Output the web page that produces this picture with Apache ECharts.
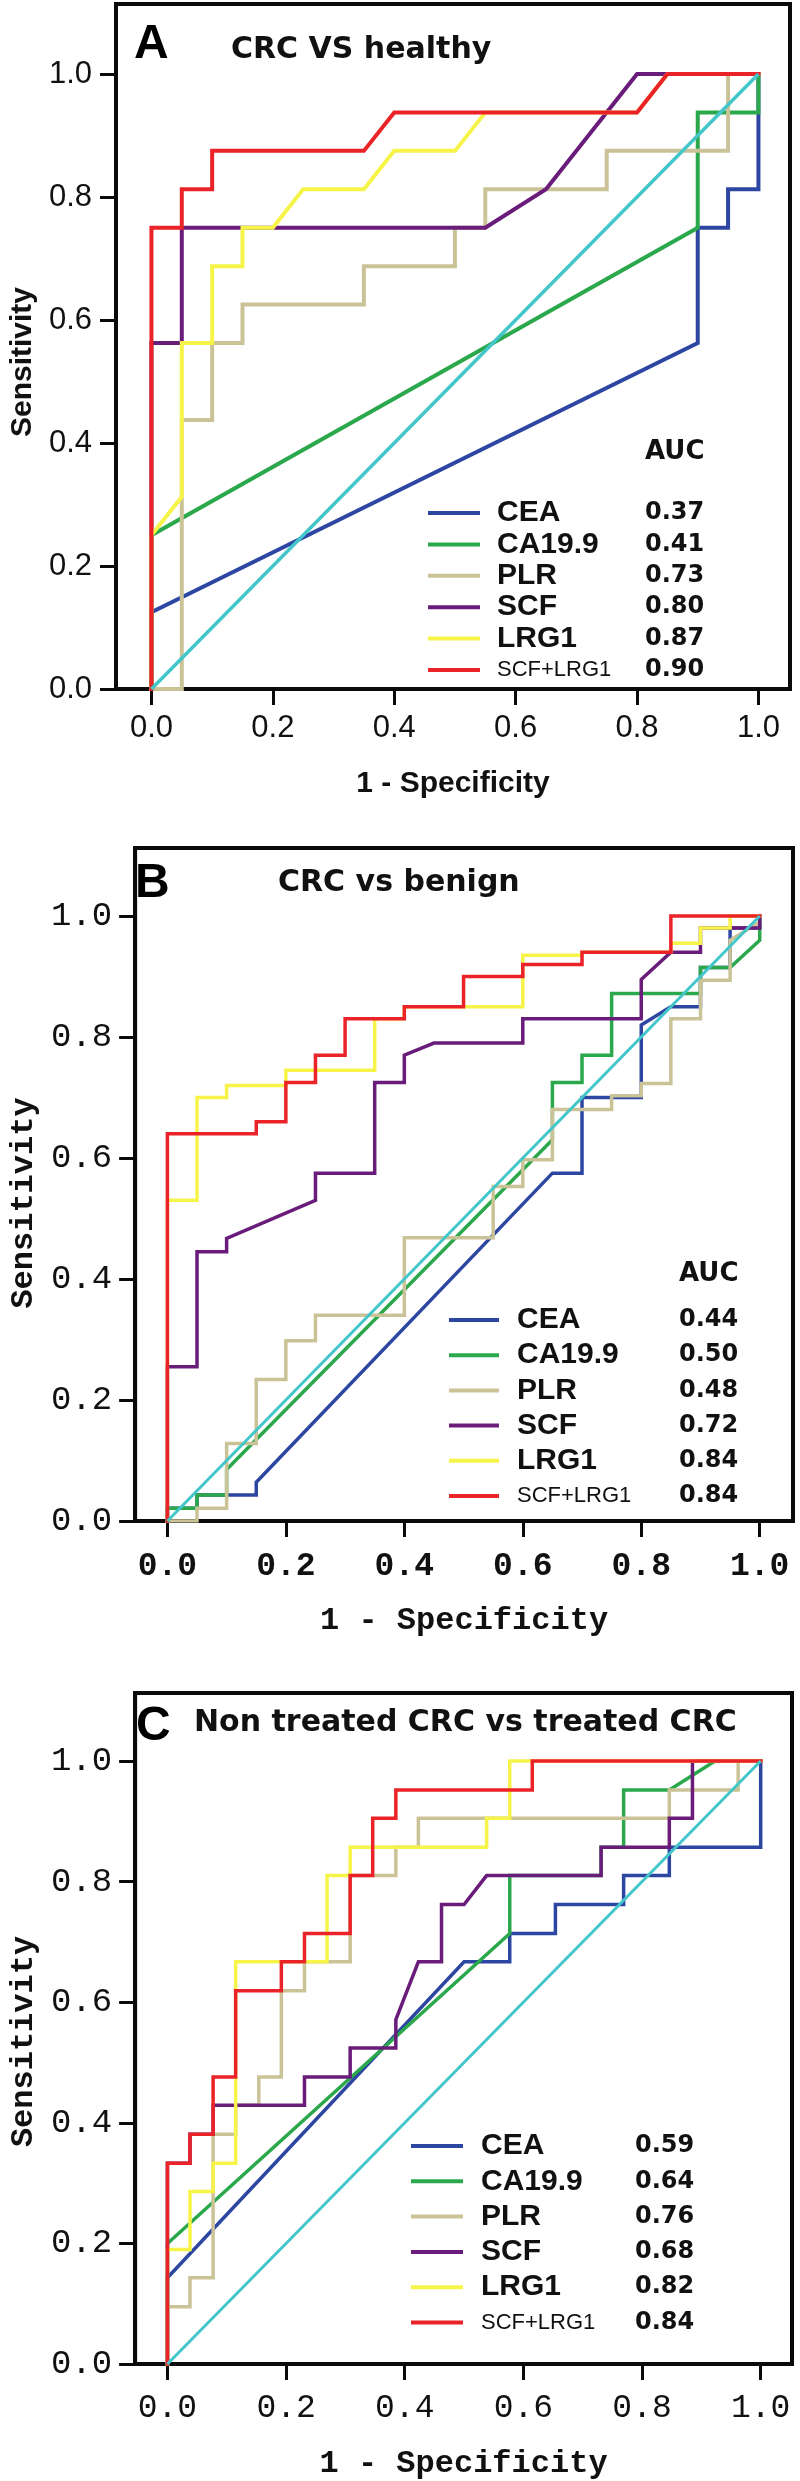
<!DOCTYPE html>
<html>
<head>
<meta charset="utf-8">
<script src="https://cdn.jsdelivr.net/npm/echarts@6/dist/echarts.min.js"></script>
<style>
html,body{margin:0;padding:0;background:#ffffff;}
#chart{width:800px;height:2481px;}
</style>
</head>
<body>
<div id="chart"></div>
<script>
// ---------- data ----------
const tickValues = [0, 0.2, 0.4, 0.6, 0.8, 1.0];
const markerNames = ['CEA', 'CA19.9', 'PLR', 'SCF', 'LRG1', 'SCF+LRG1'];
const panelLetters = ['A', 'B', 'C'];
const panelTitles = ['CRC VS healthy', 'CRC vs benign', 'Non treated CRC vs treated CRC'];
const xAxisTitle = '1 - Specificity';
const yAxisTitle = 'Sensitivity';
const aucHeader = 'AUC';
const aucA = [0.37, 0.41, 0.73, 0.80, 0.87, 0.90];
const aucB = [0.44, 0.50, 0.48, 0.72, 0.84, 0.84];
const aucC = [0.59, 0.64, 0.76, 0.68, 0.82, 0.84];
const referenceLine = [[0, 0], [1, 1]];

// Panel A: CRC vs healthy
const a_CEA = [[0,0],[0,0.125],[0.9,0.5625],[0.9,0.75],[0.95,0.75],[0.95,0.8125],[1,0.8125],[1,1]];
const a_CA199 = [[0,0],[0,0.25],[0.9,0.75],[0.9,0.9375],[1,0.9375],[1,1]];
const a_PLR = [[0,0],[0.05,0],[0.05,0.4375],[0.1,0.4375],[0.1,0.5625],[0.15,0.5625],[0.15,0.625],[0.35,0.625],[0.35,0.6875],[0.5,0.6875],[0.5,0.75],[0.55,0.75],[0.55,0.8125],[0.75,0.8125],[0.75,0.875],[0.95,0.875],[0.95,1],[1,1]];
const a_SCF = [[0,0],[0,0.5625],[0.05,0.5625],[0.05,0.75],[0.55,0.75],[0.65,0.8125],[0.8,1],[1,1]];
const a_LRG1 = [[0,0],[0,0.25],[0.05,0.3125],[0.05,0.5625],[0.1,0.5625],[0.1,0.6875],[0.15,0.6875],[0.15,0.75],[0.2,0.75],[0.25,0.8125],[0.35,0.8125],[0.4,0.875],[0.5,0.875],[0.55,0.9375],[0.8,0.9375],[0.85,1],[1,1]];
const a_SCF_LRG1 = [[0,0],[0,0.75],[0.05,0.75],[0.05,0.8125],[0.1,0.8125],[0.1,0.875],[0.35,0.875],[0.4,0.9375],[0.8,0.9375],[0.85,1],[1,1]];

// Panel B: CRC vs benign
const b_CEA = [[0,0],[0,0.021],[0.05,0.021],[0.05,0.043],[0.15,0.043],[0.15,0.064],[0.65,0.575],[0.7,0.575],[0.7,0.70],[0.8,0.70],[0.8,0.82],[0.85,0.85],[0.9,0.85],[0.9,0.915],[0.95,0.915],[0.95,0.98],[1,0.98],[1,1]];
const b_CA199 = [[0,0],[0,0.021],[0.05,0.021],[0.05,0.043],[0.1,0.043],[0.1,0.085],[0.65,0.63],[0.65,0.725],[0.7,0.725],[0.7,0.77],[0.75,0.77],[0.75,0.872],[0.9,0.872],[0.9,0.915],[0.95,0.915],[1,0.96],[1,1]];
const b_PLR = [[0,0],[0.05,0],[0.05,0.021],[0.1,0.021],[0.1,0.128],[0.15,0.128],[0.15,0.234],[0.2,0.234],[0.2,0.298],[0.25,0.298],[0.25,0.34],[0.4,0.34],[0.4,0.468],[0.55,0.468],[0.55,0.553],[0.6,0.553],[0.6,0.597],[0.65,0.597],[0.65,0.68],[0.75,0.68],[0.75,0.703],[0.8,0.703],[0.8,0.723],[0.85,0.723],[0.85,0.83],[0.9,0.83],[0.9,0.894],[0.95,0.894],[0.95,0.96],[1,0.99],[1,1]];
const b_SCF = [[0,0],[0,0.255],[0.05,0.255],[0.05,0.445],[0.1,0.445],[0.1,0.467],[0.25,0.53],[0.25,0.575],[0.35,0.575],[0.35,0.725],[0.4,0.725],[0.4,0.77],[0.45,0.79],[0.6,0.79],[0.6,0.83],[0.8,0.83],[0.8,0.895],[0.85,0.94],[0.9,0.94],[0.9,0.98],[1,0.98],[1,1]];
const b_LRG1 = [[0,0],[0,0.53],[0.05,0.53],[0.05,0.70],[0.1,0.70],[0.1,0.72],[0.2,0.72],[0.2,0.745],[0.35,0.745],[0.35,0.83],[0.4,0.83],[0.4,0.85],[0.6,0.85],[0.6,0.935],[0.7,0.935],[0.7,0.94],[0.85,0.94],[0.85,0.955],[0.9,0.955],[0.9,0.98],[0.95,0.98],[0.95,1],[1,1]];
const b_SCF_LRG1 = [[0,0],[0,0.64],[0.15,0.64],[0.15,0.66],[0.2,0.66],[0.2,0.725],[0.25,0.725],[0.25,0.77],[0.3,0.77],[0.3,0.83],[0.4,0.83],[0.4,0.85],[0.5,0.85],[0.5,0.9],[0.6,0.9],[0.6,0.92],[0.7,0.92],[0.7,0.94],[0.85,0.94],[0.85,1],[1,1]];

// Panel C: non treated CRC vs treated CRC
const c_CEA = [[0,0],[0,0.143],[0.5,0.667],[0.577,0.667],[0.577,0.714],[0.654,0.714],[0.654,0.762],[0.769,0.762],[0.769,0.81],[0.846,0.81],[0.846,0.857],[1,0.857],[1,1]];
const c_CA199 = [[0,0],[0,0.2],[0.577,0.714],[0.577,0.81],[0.731,0.81],[0.731,0.857],[0.769,0.857],[0.769,0.952],[0.846,0.952],[0.923,1],[1,1]];
const c_PLR = [[0,0],[0,0.095],[0.038,0.095],[0.038,0.143],[0.077,0.143],[0.077,0.381],[0.115,0.381],[0.115,0.429],[0.154,0.429],[0.154,0.476],[0.192,0.476],[0.192,0.619],[0.231,0.619],[0.231,0.667],[0.308,0.667],[0.308,0.81],[0.385,0.81],[0.385,0.857],[0.423,0.857],[0.423,0.905],[0.846,0.905],[0.846,0.952],[0.962,0.952],[0.962,1],[1,1]];
const c_SCF = [[0,0],[0,0.333],[0.038,0.333],[0.038,0.381],[0.077,0.381],[0.077,0.429],[0.231,0.429],[0.231,0.476],[0.308,0.476],[0.308,0.524],[0.385,0.524],[0.385,0.571],[0.423,0.667],[0.462,0.667],[0.462,0.762],[0.5,0.762],[0.538,0.81],[0.731,0.81],[0.731,0.857],[0.846,0.857],[0.846,0.905],[0.885,0.905],[0.885,1],[1,1]];
const c_LRG1 = [[0,0],[0,0.19],[0.038,0.19],[0.038,0.286],[0.077,0.286],[0.077,0.333],[0.115,0.333],[0.115,0.667],[0.269,0.667],[0.269,0.81],[0.308,0.81],[0.308,0.857],[0.538,0.857],[0.538,0.905],[0.577,0.905],[0.577,1],[1,1]];
const c_SCF_LRG1 = [[0,0],[0,0.333],[0.038,0.333],[0.038,0.381],[0.077,0.381],[0.077,0.476],[0.115,0.476],[0.115,0.619],[0.192,0.619],[0.192,0.667],[0.231,0.667],[0.231,0.714],[0.308,0.714],[0.308,0.81],[0.346,0.81],[0.346,0.905],[0.385,0.905],[0.385,0.952],[0.615,0.952],[0.615,1],[1,1]];

const curvesA = [a_CEA, a_CA199, a_PLR, a_SCF, a_LRG1, a_SCF_LRG1];
const curvesB = [b_CEA, b_CA199, b_PLR, b_SCF, b_LRG1, b_SCF_LRG1];
const curvesC = [c_CEA, c_CA199, c_PLR, c_SCF, c_LRG1, c_SCF_LRG1];

// ---------- styling / layout ----------
const markerColors = ['#2c46a2', '#2aa84b', '#cbc398', '#6a1c7a', '#f6f449', '#ea2328'];
const referenceColor = '#43c6c9';
const SANS = "'Liberation Sans', Arial, sans-serif";
const HEAVY = "'DejaVu Sans', 'Liberation Sans', sans-serif";
const MONO = "'Liberation Mono', 'DejaVu Sans Mono', monospace";

const panels = [
  {
    curves: curvesA, auc: aucA, lw: 4,
    grid: {left: 106, top: 4, width: 684, height: 685},
    xr: [-0.0584, 1.052], yr: [0, 1.1138],
    tickFont: {fontFamily: SANS, fontSize: 31, fontWeight: 'normal'},
    xTickFont: {fontFamily: SANS, fontSize: 31, fontWeight: 'normal'},
    nameFont: {fontFamily: SANS, fontSize: 30, fontWeight: 'bold'},
    xMargin: 24, yMargin: 24, xNameGap: 80, yNameGap: 73, yNameShift: 31,
    letter: {left: 134, top: 21}, title: {left: 231, top: 35},
    aucHead: {left: 645, top: 439},
    legend: {left: 428, top: 498, gap: 1.4, itemWidth: 52, textLeft: 497, valueLeft: 645}
  },
  {
    curves: curvesB, auc: aucB, lw: 3.5,
    grid: {left: 121, top: 848, width: 672, height: 673},
    xr: [-0.0545, 1.0562], yr: [0, 1.1124],
    tickFont: {fontFamily: MONO, fontSize: 34, fontWeight: 'normal'},
    xTickFont: {fontFamily: MONO, fontSize: 33, fontWeight: 'bold'},
    nameFont: {fontFamily: MONO, fontSize: 32, fontWeight: 'bold'},
    xMargin: 29, yMargin: 23, xNameGap: 84, yNameGap: 88, yNameShift: 37,
    letter: {left: 135, top: 860}, title: {left: 278, top: 868},
    aucHead: {left: 679, top: 1261},
    legend: {left: 449, top: 1305, gap: 5.2, itemWidth: 50, textLeft: 517, valueLeft: 679}
  },
  {
    curves: curvesC, auc: aucC, lw: 3.5,
    grid: {left: 121, top: 1693, width: 671, height: 671},
    xr: [-0.0545, 1.0528], yr: [0, 1.1128],
    tickFont: {fontFamily: MONO, fontSize: 34, fontWeight: 'normal'},
    xTickFont: {fontFamily: MONO, fontSize: 33, fontWeight: 'normal'},
    nameFont: {fontFamily: MONO, fontSize: 32, fontWeight: 'bold'},
    xMargin: 28, yMargin: 23, xNameGap: 84, yNameGap: 88, yNameShift: 26,
    letter: {left: 136, top: 1703}, title: {left: 194, top: 1708},
    aucHead: null,
    legend: {left: 411, top: 2131, gap: 5.3, itemWidth: 52, textLeft: 481, valueLeft: 635}
  }
];

// ---------- build option ----------
const grids = [], xAxes = [], yAxes = [], series = [], legends = [], titles = [];
const fmt1 = v => v.toFixed(1);

panels.forEach((p, pi) => {
  grids.push(Object.assign({show: true, borderColor: '#0a0a0a', borderWidth: 4, backgroundColor: 'transparent', containLabel: false}, p.grid));
  const axisLine = {show: true, onZero: false, lineStyle: {color: '#0a0a0a', width: 4}};
  const axisTick = {show: true, inside: false, length: 16, customValues: tickValues, lineStyle: {color: '#0a0a0a', width: 3}};
  xAxes.push({
    type: 'value', gridIndex: pi, min: p.xr[0], max: p.xr[1],
    axisLine, axisTick, splitLine: {show: false},
    axisLabel: Object.assign({customValues: tickValues, formatter: fmt1, margin: p.xMargin, color: '#111'}, p.xTickFont),
    name: xAxisTitle, nameLocation: 'middle', nameGap: p.xNameGap,
    nameTextStyle: Object.assign({color: '#111'}, p.nameFont)
  });
  yAxes.push({
    type: 'value', gridIndex: pi, min: p.yr[0], max: p.yr[1],
    axisLine, axisTick, splitLine: {show: false},
    axisLabel: Object.assign({customValues: tickValues, formatter: fmt1, margin: p.yMargin, color: '#111'}, p.tickFont),
    name: yAxisTitle, nameLocation: 'middle', nameGap: p.yNameGap,
    nameTextStyle: Object.assign({color: '#111', padding: [0, p.yNameShift, 0, 0]}, p.nameFont)
  });
  p.curves.forEach((data, si) => {
    series.push({
      type: 'line', name: markerNames[si], xAxisIndex: pi, yAxisIndex: pi,
      data: data, symbol: 'none', showSymbol: false, smooth: false,
      color: markerColors[si],
      itemStyle: {color: markerColors[si]},
      lineStyle: {color: markerColors[si], width: p.lw, cap: 'square', join: 'miter'},
      z: 3 + si, silent: true, animation: false
    });
  });
  series.push({
    type: 'line', name: 'Reference', xAxisIndex: pi, yAxisIndex: pi,
    data: referenceLine, symbol: 'none', showSymbol: false,
    color: referenceColor,
    lineStyle: {color: referenceColor, width: p.lw - 0.5},
    z: 10, silent: true, animation: false
  });

  const L = p.legend;
  const auc = p.auc;
  // names legend (line swatch + marker name)
  legends.push({
    orient: 'vertical', left: L.left, top: L.top,
    padding: 0, itemGap: L.gap,
    itemWidth: L.itemWidth, itemHeight: 4, icon: 'rect',
    selectedMode: false,
    data: markerNames.slice(),
    formatter: function (name) {
      return name === 'SCF+LRG1' ? '{m|' + name + '}' : name;
    },
    textStyle: {
      color: '#111', fontFamily: SANS, fontWeight: 'bold', fontSize: 30, lineHeight: 30,
      padding: [0, 0, 0, L.textLeft - L.left - L.itemWidth - 5],
      rich: {
        m: {fontFamily: SANS, fontWeight: 'normal', fontSize: 22, lineHeight: 30, color: '#111'}
      }
    }
  });
  // AUC values legend (no swatch), same row layout
  legends.push({
    orient: 'vertical', left: L.valueLeft - 5, top: L.top,
    padding: 0, itemGap: L.gap,
    itemWidth: 0, itemHeight: 0, icon: 'rect',
    selectedMode: false,
    data: markerNames.slice(),
    formatter: function (name) {
      return auc[markerNames.indexOf(name)].toFixed(2);
    },
    textStyle: {color: '#111', fontFamily: HEAVY, fontWeight: 'bold', fontSize: 24, lineHeight: 30}
  });

  titles.push({
    text: panelLetters[pi], left: p.letter.left, top: p.letter.top, padding: 0,
    textStyle: {fontFamily: SANS, fontWeight: 'bold', fontSize: 48, color: '#000'}
  });
  titles.push({
    text: panelTitles[pi], left: p.title.left, top: p.title.top, padding: 0,
    textStyle: {fontFamily: HEAVY, fontWeight: 'bold', fontSize: 30, color: '#111'}
  });
  if (p.aucHead) {
    titles.push({
      text: aucHeader, left: p.aucHead.left, top: p.aucHead.top, padding: 0,
      textStyle: {fontFamily: HEAVY, fontWeight: 'bold', fontSize: 26, color: '#111'}
    });
  }
});

const chart = echarts.init(document.getElementById('chart'), null, {renderer: 'canvas', width: 800, height: 2481});
chart.setOption({
  backgroundColor: '#ffffff',
  animation: false,
  title: titles,
  legend: legends,
  grid: grids,
  xAxis: xAxes,
  yAxis: yAxes,
  series: series
});
</script>
</body>
</html>
